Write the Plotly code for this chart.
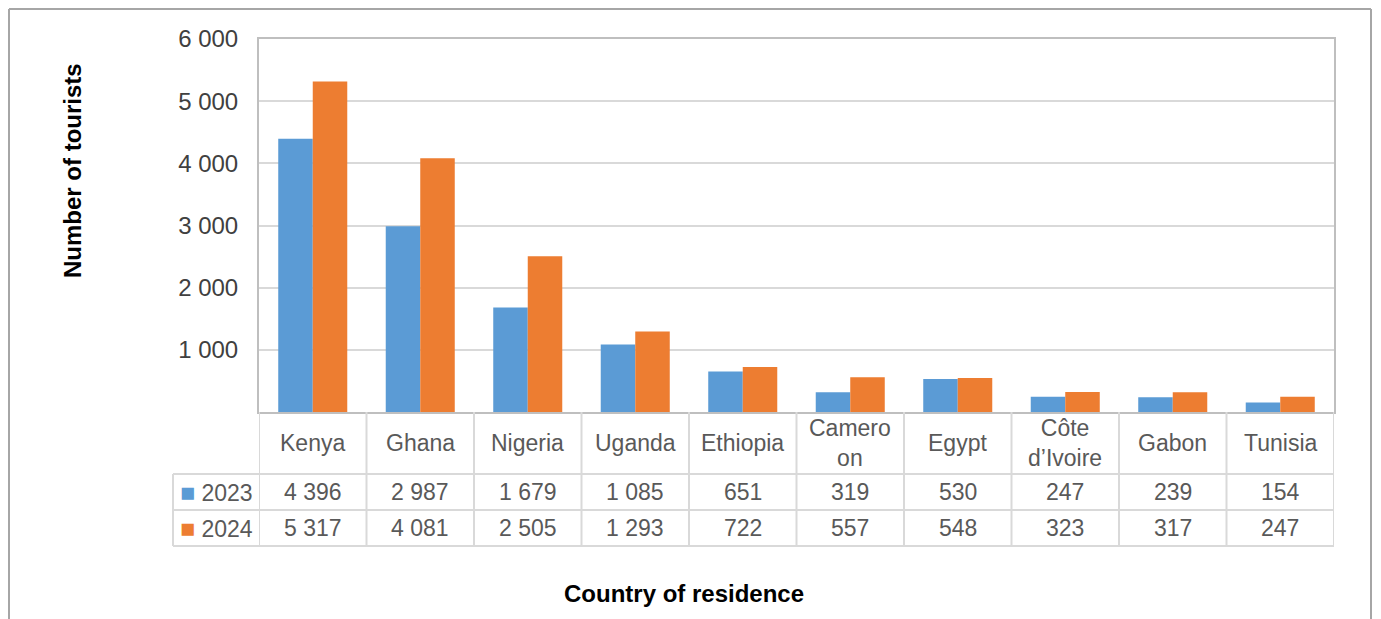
import plotly.graph_objects as go

countries = ["Kenya", "Ghana", "Nigeria", "Uganda", "Ethiopia", "Cameroon",
             "Egypt", "Côte d'Ivoire", "Gabon", "Tunisia"]
country_labels = ["Kenya", "Ghana", "Nigeria", "Uganda", "Ethiopia", "Camero<br>on",
                  "Egypt", "Côte<br>d’Ivoire", "Gabon", "Tunisia"]
series_names = ["2023", "2024"]
values_2023 = [4396, 2987, 1679, 1085, 651, 319, 530, 247, 239, 154]
values_2024 = [5317, 4081, 2505, 1293, 722, 557, 548, 323, 317, 247]
y_ticks = [1000, 2000, 3000, 4000, 5000, 6000]

colors = ["#5B9BD5", "#ED7D31"]
series_values = [values_2023, values_2024]
FONT = "Liberation Sans, Arial, sans-serif"
TXT = "#595959"
LINE = "#d9d9d9"

OFF = 8  # page body margin
W, H = 1381 - OFF, 619 - OFF
# desired page-pixel positions of the plot area
PL, PR, PT, PB = 259, 1334, 39, 412
L, T = PL - OFF, PT - OFF
R = W - (PR - OFF)
B = H - (PB - OFF)
ph = PB - PT
pw = PR - PL


def py(pix):
    return (PB - pix) / ph


def px(pix):
    return (pix - PL) / pw


fig = go.Figure()
for name, vals, col in zip(series_names, series_values, colors):
    fig.add_trace(go.Bar(x=countries, y=vals, name=name, marker_color=col,
                         marker_line_width=0, showlegend=False))

annotations = []
shapes = []

# header row (category names)
for c, lab in zip(countries, country_labels):
    annotations.append(dict(x=c, xref="x", y=py(443), yref="paper", text=lab,
                            showarrow=False, font=dict(size=23, color=TXT, family=FONT),
                            xanchor="center", yanchor="middle"))

row_centers = [py(492), py(528)]
for name, vals, col, yc in zip(series_names, series_values, colors, row_centers):
    for c, v in zip(countries, vals):
        annotations.append(dict(x=c, xref="x", y=yc, yref="paper",
                                text=f"{v:,}".replace(",", " "),
                                showarrow=False, font=dict(size=23, color=TXT, family=FONT),
                                xanchor="center", yanchor="middle"))
    annotations.append(dict(x=px(216), xref="paper", y=yc, yref="paper",
                            text=f"<span style='color:{col};font-size:25px'>■</span> {name}",
                            showarrow=False, font=dict(size=23, color=TXT, family=FONT),
                            xanchor="center", yanchor="middle"))

# table grid lines
for yy in [474, 510, 546]:
    shapes.append(dict(type="line", xref="paper", yref="paper", x0=px(173), x1=1,
                       y0=py(yy), y1=py(yy), line=dict(color=LINE, width=2)))
for i in range(len(countries) + 1):
    shapes.append(dict(type="line", xref="x", yref="paper", x0=i - 0.5, x1=i - 0.5,
                       y0=py(546), y1=0, line=dict(color=LINE, width=2)))
shapes.append(dict(type="line", xref="paper", yref="paper", x0=px(173), x1=px(173),
                   y0=py(546), y1=py(474), line=dict(color=LINE, width=2)))

# outer chart border (left, top, right edges)
BORDER = dict(color="#a6a6a6", width=2)
shapes.append(dict(type="line", xref="paper", yref="paper", x0=px(9), x1=px(9),
                   y0=py(619), y1=py(9), line=BORDER))
shapes.append(dict(type="line", xref="paper", yref="paper", x0=px(9), x1=px(1371),
                   y0=py(9), y1=py(9), line=BORDER))
shapes.append(dict(type="line", xref="paper", yref="paper", x0=px(1371), x1=px(1371),
                   y0=py(619), y1=py(9), line=BORDER))

# axis titles
annotations.append(dict(x=px(72), xref="paper", y=py(171), yref="paper",
                        text="<b>Number of tourists</b>", textangle=-90, showarrow=False,
                        font=dict(size=24, color="#000000", family=FONT),
                        xanchor="center", yanchor="middle"))
annotations.append(dict(x=px(684), xref="paper", y=py(593), yref="paper",
                        text="<b>Country of residence</b>", showarrow=False,
                        font=dict(size=24, color="#000000", family=FONT),
                        xanchor="center", yanchor="middle"))

fig.update_layout(
    width=W, height=H,
    margin=dict(l=L, r=R, t=T, b=B, pad=0),
    plot_bgcolor="white", paper_bgcolor="white",
    barmode="group", bargap=0.358, bargroupgap=0,
    separators=". ",
    annotations=annotations, shapes=shapes,
    font=dict(family=FONT),
)
fig.update_xaxes(showticklabels=False, showline=True, linecolor="#bfbfbf", linewidth=2,
                 mirror=True, showgrid=False, ticks="", range=[-0.5, 9.5])
fig.update_yaxes(range=[0, 6000], tickvals=y_ticks, tickformat=",d",
                 showgrid=True, gridcolor=LINE, gridwidth=2, zeroline=False,
                 showline=True, linecolor="#bfbfbf", linewidth=2, mirror=True,
                 ticks="", ticklabelstandoff=14,
                 tickfont=dict(size=24, color="#404040", family=FONT))

fig.write_html("out.html")
